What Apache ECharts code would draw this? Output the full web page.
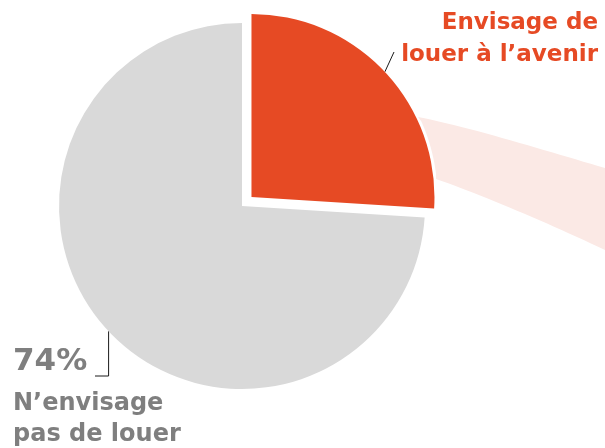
<!DOCTYPE html>
<html>
<head>
<meta charset="utf-8">
<script src="https://cdn.jsdelivr.net/npm/echarts@6/dist/echarts.min.js"></script>
<style>
  html, body { margin: 0; padding: 0; background: #ffffff; }
  #chart { width: 605px; height: 448px; }
</style>
</head>
<body>
<div id="chart"></div>
<script>
// Survey split: intention to rent in the future
const categories = ['Envisage de\nlouer à l’avenir', 'N’envisage\npas de louer'];
const shares = [26, 74];
const sliceColors = ['#E64A24', '#D9D9D9'];
const labelColors = ['#E64A24', '#7F7F7F'];

const FONT = 'DejaVu Sans';
const CENTER = [242, 206];
const RADIUS = 183;
const EXPLODE = 13;          // pull-out distance of the highlighted slice
const HIDDEN = 'rgba(0,0,0,0)';

// Pull the first slice out along its bisector (start at 12 o'clock, clockwise)
const total = shares.reduce((a, b) => a + b, 0);
const midAngle = (shares[0] / total) * Math.PI;            // radians from 12 o'clock
const explodedCenter = [
  CENTER[0] + EXPLODE * Math.sin(midAngle),
  CENTER[1] - EXPLODE * Math.cos(midAngle)
];

const lineStyle = { color: '#1a1a1a', width: 1 };
const richLines = (name, style) => name.split('\n').map(s => '{' + style + '|' + s + '}').join('\n');

// sample a cubic bezier into points (excluding the start point)
function cubic(p0, p1, p2, p3, n) {
  const pts = [];
  for (let k = 1; k <= n; k++) {
    const t = k / n, u = 1 - t;
    pts.push([
      u * u * u * p0[0] + 3 * u * u * t * p1[0] + 3 * u * t * t * p2[0] + t * t * t * p3[0],
      u * u * u * p0[1] + 3 * u * u * t * p1[1] + 3 * u * t * t * p2[1] + t * t * t * p3[1]
    ]);
  }
  return pts;
}

// soft band leading away from the highlighted slice; its left end hugs the slice rim
function bandPoints() {
  const pts = [[418, 117]];
  pts.push(...cubic([418, 117], [470, 127], [550, 152], [605, 168], 24));
  pts.push([605, 250]);
  pts.push(...cubic([605, 250], [550, 224], [480, 194], [436, 179], 24));
  const rimR = 186;
  const a0 = Math.atan2(179 - explodedCenter[1], 436 - explodedCenter[0]);
  const a1 = Math.atan2(117 - explodedCenter[1], 418 - explodedCenter[0]);
  for (let k = 1; k < 12; k++) {
    const a = a0 + (a1 - a0) * k / 12;
    pts.push([explodedCenter[0] + rimR * Math.cos(a), explodedCenter[1] + rimR * Math.sin(a)]);
  }
  return pts;
}

// one series per slice so the exploded one can sit on its own centre
function sliceData(visibleIndex) {
  return categories.map((name, i) => {
    if (i !== visibleIndex) {
      return {
        name: name, value: shares[i],
        itemStyle: { color: HIDDEN },
        label: { show: false }, labelLine: { show: false }
      };
    }
    const item = { name: name, value: shares[i], itemStyle: { color: sliceColors[i] } };
    if (i === 0) {
      item.label = {
        show: true,
        formatter: (p) => richLines(p.name, 't'),
        rich: {
          t: { fontFamily: FONT, fontWeight: 'bold', fontSize: 23, lineHeight: 32, color: labelColors[0] }
        }
      };
    } else {
      item.label = {
        show: true,
        formatter: (p) => '{p|' + p.value + '%}\n' + richLines(p.name, 't'),
        rich: {
          p: { fontFamily: FONT, fontWeight: 'bold', fontSize: 31, lineHeight: 52, color: labelColors[1] },
          t: { fontFamily: FONT, fontWeight: 'bold', fontSize: 24, lineHeight: 31, color: labelColors[1] }
        }
      };
    }
    item.labelLine = { show: true, length: 15, length2: 0, lineStyle: lineStyle };
    return item;
  });
}

const common = {
  type: 'pie',
  radius: [0, RADIUS],
  startAngle: 90,
  clockwise: true,
  silent: true,
  avoidLabelOverlap: false,
  emphasis: { disabled: true },
  itemStyle: { borderWidth: 0 },
  label: { position: 'outside' }
};

const chart = echarts.init(document.getElementById('chart'), null, { renderer: 'canvas' });

chart.setOption({
  animation: false,
  backgroundColor: '#ffffff',
  graphic: {
    elements: [{
      type: 'polygon',
      z: 0,
      shape: { points: bandPoints() },
      style: { fill: '#FBE9E5' }
    }]
  },
  series: [
    Object.assign({}, common, {
      name: 'rest',
      center: CENTER,
      data: sliceData(1),
      labelLayout: function (params) {
        if (params.dataIndex !== 1) return {};
        const anchor = params.labelLinePoints ? params.labelLinePoints[0].slice() : null;
        return {
          x: 13, y: 336, align: 'left', verticalAlign: 'top',
          labelLinePoints: anchor ? [anchor, [anchor[0], 376], [95, 376]] : undefined
        };
      }
    }),
    Object.assign({}, common, {
      name: 'highlight',
      center: explodedCenter,
      data: sliceData(0),
      labelLayout: function (params) {
        if (params.dataIndex !== 0) return {};
        const anchor = params.labelLinePoints ? params.labelLinePoints[0].slice() : null;
        const end = [394, 52];
        return {
          x: 598, y: 7, align: 'right', verticalAlign: 'top',
          labelLinePoints: anchor ? [anchor, end, end.slice()] : undefined
        };
      }
    })
  ]
});
</script>
</body>
</html>
